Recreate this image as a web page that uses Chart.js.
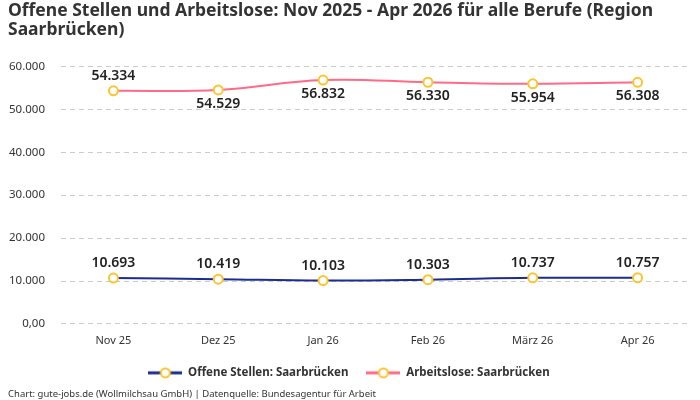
<!DOCTYPE html>
<html>
<head>
<meta charset="utf-8">
<script src="https://cdn.jsdelivr.net/npm/chart.js@4/dist/chart.umd.min.js"></script>
<style>
  html, body { margin: 0; padding: 0; background: #fff; }
  #wrap { width: 700px; height: 400px; }
</style>
</head>
<body>
<div id="wrap"><canvas id="chart"></canvas></div>
<script>
// chart data
const months = ['Nov 25', 'Dez 25', 'Jan 26', 'Feb 26', 'März 26', 'Apr 26'];
const offeneStellen = [10693, 10419, 10103, 10303, 10737, 10757];
const arbeitslose = [54334, 54529, 56832, 56330, 55954, 56308];
const yTicks = [0, 10000, 20000, 30000, 40000, 50000, 60000];

const FONT = "'Noto Sans', sans-serif";
const BLUE = '#1c2d8f';
const PINK = '#ff6b86';
const YELLOW = '#fbc531';

// small legend icon: line with ring in the middle
const makeIcon = (color) => {
  const c = document.createElement('canvas');
  c.width = 34;
  c.height = 14;
  const g = c.getContext('2d');
  g.strokeStyle = color;
  g.lineWidth = 3;
  g.beginPath();
  g.moveTo(0, 7);
  g.lineTo(34, 7);
  g.stroke();
  g.beginPath();
  g.arc(17, 7, 4.5, 0, Math.PI * 2);
  g.fillStyle = '#fff';
  g.fill();
  g.strokeStyle = YELLOW;
  g.lineWidth = 2;
  g.stroke();
  return c;
};

const fmt = v => v.toLocaleString('de-DE');

// draws the value labels (pink: first above, rest below)
const valueLabels = {
  id: 'valueLabels',
  afterDatasetsDraw(chart) {
    const ctx = chart.ctx;
    ctx.save();
    ctx.font = "600 14px " + FONT;
    ctx.fillStyle = '#222';
    ctx.textAlign = 'center';
    ctx.textBaseline = 'middle';
    chart.data.datasets.forEach((ds, di) => {
      const meta = chart.getDatasetMeta(di);
      meta.data.forEach((pt, i) => {
        const below = di === 1 && i > 0;
        ctx.fillText(fmt(ds.data[i]), pt.x, below ? pt.y + 14 : pt.y - 15);
      });
    });
    ctx.restore();
  }
};

const pointStyleOpts = {
  pointRadius: 4.5,
  pointBorderWidth: 2,
  pointBackgroundColor: '#fff',
  pointBorderColor: YELLOW,
  pointHoverRadius: 5
};

new Chart(document.getElementById('chart'), {
  type: 'line',
  data: {
    labels: months,
    datasets: [
      {
        label: 'Offene Stellen: Saarbrücken',
        data: offeneStellen,
        borderColor: BLUE,
        borderWidth: 2,
        ...pointStyleOpts
      },
      {
        label: 'Arbeitslose: Saarbrücken',
        data: arbeitslose,
        borderColor: PINK,
        borderWidth: 2,
        ...pointStyleOpts
      }
    ]
  },
  options: {
    responsive: true,
    maintainAspectRatio: false,
    animation: false,
    layout: { padding: { left: 8, right: 10, top: 0, bottom: 0 } },
    elements: {
      line: { tension: 0.4, fill: false }
    },
    plugins: {
      title: {
        display: true,
        text: ['Offene Stellen und Arbeitslose: Nov 2025 - Apr 2026 für alle Berufe (Region', 'Saarbrücken)'],
        align: 'start',
        color: '#333',
        font: { family: FONT, size: 17.5, weight: 'bold', lineHeight: 1.1 },
        padding: { top: 1, bottom: 27 }
      },
      legend: {
        position: 'bottom',
        labels: {
          usePointStyle: true,
          pointStyleWidth: 34,
          padding: 18,
          color: '#333',
          font: { family: FONT, size: 11.5, weight: 'bold' },
          generateLabels: chart => chart.data.datasets.map((ds, i) => ({
            text: ds.label,
            datasetIndex: i,
            pointStyle: makeIcon(ds.borderColor),
            fillStyle: ds.borderColor,
            strokeStyle: ds.borderColor,
            lineWidth: 0,
            hidden: false,
            fontColor: '#333'
          }))
        }
      },
      subtitle: {
        display: true,
        position: 'bottom',
        align: 'start',
        text: 'Chart: gute-jobs.de (Wollmilchsau GmbH) | Datenquelle: Bundesagentur für Arbeit',
        color: '#333',
        font: { family: FONT, size: 9.5 },
        padding: { top: 0, bottom: 0 }
      },
      tooltip: { enabled: false }
    },
    scales: {
      x: {
        offset: true,
        grid: { display: false },
        border: { display: false },
        ticks: { color: '#333', font: { family: FONT, size: 11 }, padding: 2 }
      },
      y: {
        min: 0,
        max: 60000,
        afterBuildTicks: axis => { axis.ticks = yTicks.map(v => ({ value: v })); },
        afterFit: axis => { axis.width = 53; },
        grid: { color: '#cccccc', drawTicks: false },
        border: { display: false, dash: [5, 4] },
        ticks: {
          color: '#333',
          font: { family: FONT, size: 11.5 },
          padding: 16,
          callback: v => v === 0 ? '0,00' : fmt(v)
        }
      }
    }
  },
  plugins: [valueLabels]
});
</script>
</body>
</html>
